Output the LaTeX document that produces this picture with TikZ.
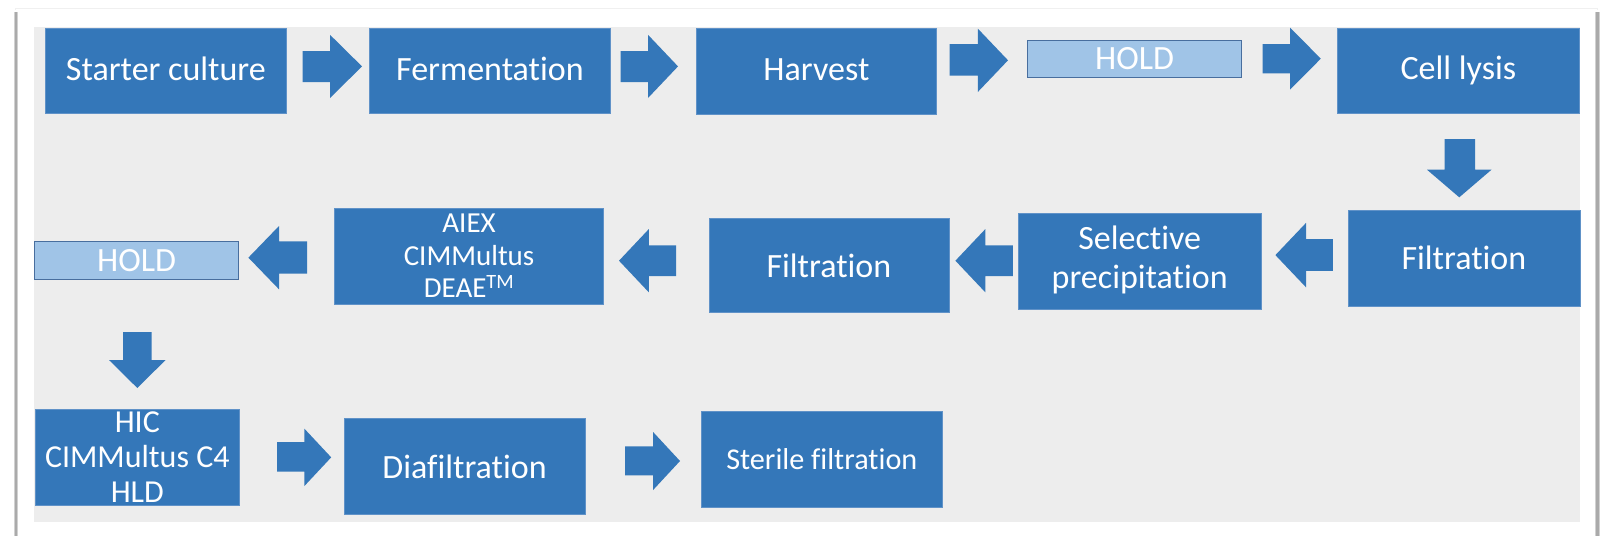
\documentclass[tikz,border=0pt]{standalone}
\usepackage{fontspec}
\setmainfont{Carlito}[Ligatures=NoCommon]
\definecolor{procblue}{RGB}{52,119,185}
\definecolor{procedge}{RGB}{96,146,200}
\definecolor{holdfill}{RGB}{160,196,231}
\definecolor{holdedge}{RGB}{72,110,158}
\definecolor{panelgray}{RGB}{237,237,237}
\definecolor{cardshadow}{RGB}{170,170,170}

% horizontal block arrow: tail x, head-base x, tip x, head top y, head bottom y, shaft top y, shaft bottom y
\newcommand\hblock[7]{%
  \fill[procblue] (#1,#6) -- (#2,#6) -- (#2,#4) -- (#3,{(#4+#5)/2}) -- (#2,#5) -- (#2,#7) -- (#1,#7) -- cycle;}
% vertical block arrow: tail y, head-base y, tip y, head left x, head right x, shaft left x, shaft right x
\newcommand\vblock[7]{%
  \fill[procblue] (#6,#1) -- (#6,#2) -- (#4,#2) -- ({(#4+#5)/2},#3) -- (#5,#2) -- (#7,#2) -- (#7,#1) -- cycle;}

\begin{document}
\begin{tikzpicture}[x=1pt,y=-1pt,
  stepbox/.style={fill=procblue, draw=procedge, line width=0.8pt, text=white,
    inner sep=0pt, anchor=north west, align=center,
    font=\fontsize{34}{39}\selectfont},
  holdbox/.style={fill=holdfill, draw=holdedge, line width=1.1pt, text=white,
    inner sep=0pt, anchor=north west, font=\fontsize{34}{39}\selectfont},
]
\useasboundingbox (0,0) rectangle (1603,536);
\fill[white] (0,0) rectangle (1603,536);

% card with its shadow
\fill[black!6] (15,7.5) rectangle (1598,10);
\fill[white] (16,9) rectangle (1597,536);
\fill[black!18] (13.5,12) rectangle (18,536);
\fill[cardshadow] (14.5,12) rectangle (16.5,536);
\fill[black!18] (1595,12) rectangle (1599.5,536);
\fill[cardshadow] (1596,12) rectangle (1598.5,536);

% panel
\fill[panelgray] (34,27) rectangle (1580,521.5);

% row 1
\node[stepbox, minimum width=241pt, minimum height=84.5pt] (starter) at (45,28) {\raisebox{3pt}{Starter culture}};
\node[stepbox, minimum width=241pt, minimum height=84.5pt] (ferment) at (369,28) {\raisebox{3pt}{Fermentation}};
\node[stepbox, minimum width=240pt, minimum height=85.5pt] (harvest) at (696,28) {\raisebox{3pt}{Harvest}};
\node[holdbox, minimum width=214pt, minimum height=37pt] (hold1) at (1027,40) {HOLD};
\node[stepbox, minimum width=242pt, minimum height=84.5pt] (lysis) at (1337,28) {\raisebox{3pt}{Cell lysis}};

\hblock{302.6}{330}{362}{34.8}{98}{51}{82}
\hblock{620.5}{648}{678}{34.8}{98}{51}{82}
\hblock{949.7}{977.8}{1008}{28.6}{92}{44}{75.6}
\hblock{1262.5}{1290}{1320.8}{27.6}{89.7}{44}{73.3}

% turn down to row 2
\vblock{139}{169.7}{197.3}{1427}{1491.5}{1444.5}{1475}

% row 2, running right to left
\node[stepbox, minimum width=232pt, minimum height=96pt] (filt1) at (1347.5,209.6) {Filtration};
\node[stepbox, minimum width=242.5pt, minimum height=96pt] (selprec) at (1018,212.6)
  {\raisebox{-3pt}{\begin{tabular}{@{}c@{}}Selective\\precipitation\end{tabular}}};
\node[stepbox, minimum width=240pt, minimum height=94.5pt] (filt2) at (708.5,217.7) {Filtration};
\node[stepbox, minimum width=268.7pt, minimum height=96pt,
  font=\fontsize{29}{32.5}\selectfont] (aiex) at (334.3,207.5) {AIEX\\CIMMultus\\DEAE\textsuperscript{TM}};
\node[holdbox, minimum width=204pt, minimum height=38pt] (hold2) at (34,241) {HOLD};

\hblock{1332.8}{1306}{1275.4}{222.9}{287.3}{239.2}{270.9}
\hblock{1012.8}{985.4}{955.4}{229}{292.4}{245.4}{276}
\hblock{676.2}{648.9}{619}{229}{292.4}{245.4}{276}
\hblock{307}{279}{248.4}{226}{289.3}{241.3}{273.6}

% turn down to row 3
\vblock{332}{360}{388}{109}{165.6}{123}{151.7}

% row 3
\node[stepbox, minimum width=204.2pt, minimum height=96pt,
  font=\fontsize{32}{35}\selectfont] (hic) at (34.8,409) {HIC\\CIMMultus C4\\HLD};
\node[stepbox, minimum width=241.3pt, minimum height=96pt] (diaf) at (343.5,418) {\raisebox{-3pt}{Diafiltration}};
\node[stepbox, minimum width=240.2pt, minimum height=96.5pt,
  font=\fontsize{30.2}{35}\selectfont] (sterile) at (701.3,410.5) {Sterile filtration};

\hblock{277}{304.4}{331.2}{428.7}{486}{442}{471.7}
\hblock{625}{653.1}{680}{432}{490}{446.4}{475.4}
\end{tikzpicture}
\end{document}
